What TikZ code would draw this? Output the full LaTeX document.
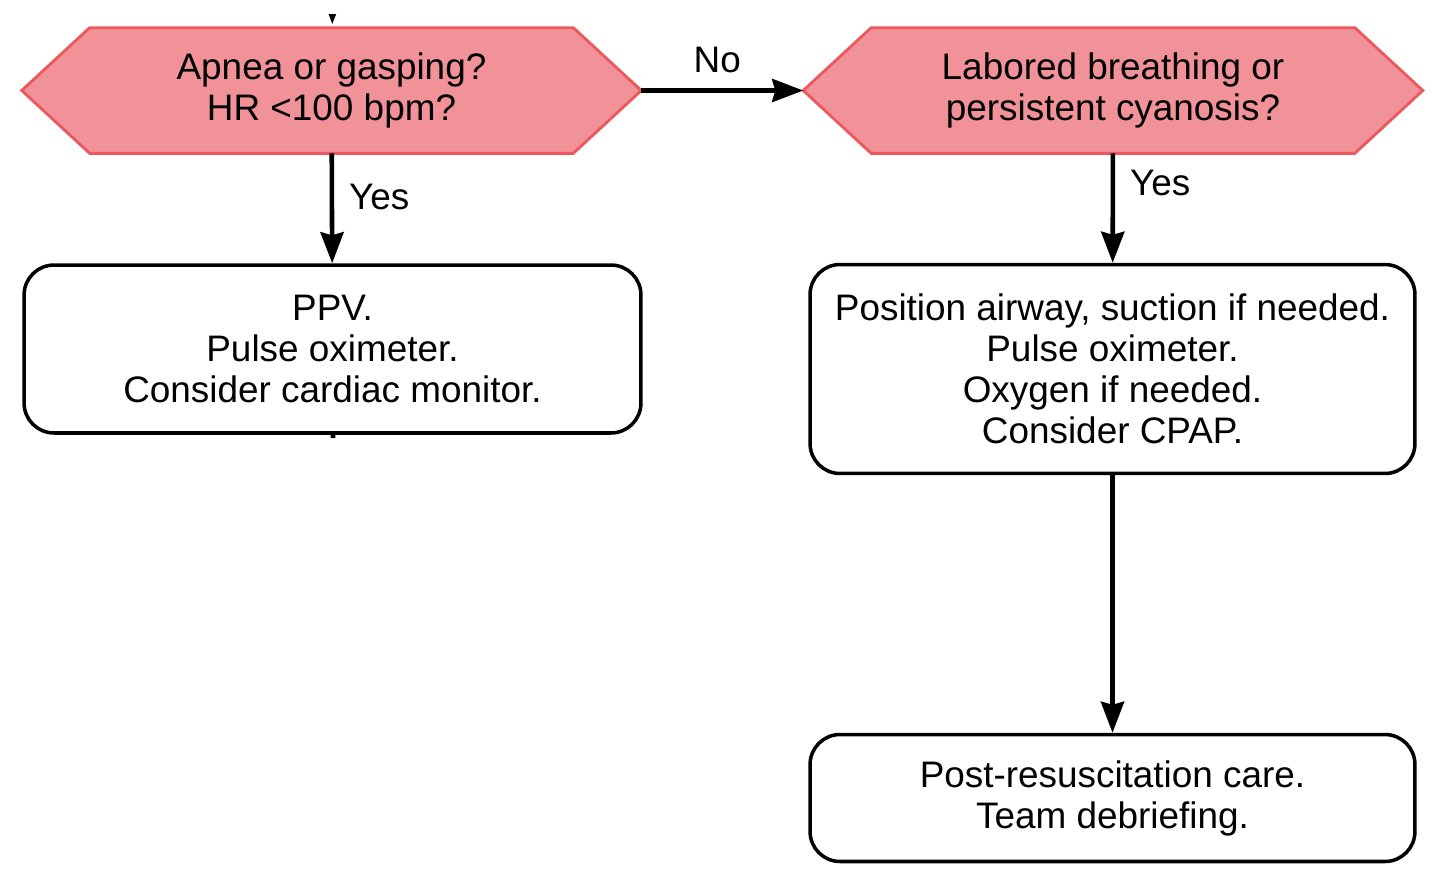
\documentclass[tikz,border=0pt]{standalone}
\usepackage{fontspec}
\setmainfont{Liberation Sans}
\usetikzlibrary{arrows.meta}
\definecolor{hexfill}{RGB}{241,145,152}
\definecolor{hexedge}{RGB}{236,88,94}

\begin{document}
\begin{tikzpicture}[x=0.02cm,y=-0.02cm]
        \useasboundingbox (0,0) rectangle (1437,873);

        \begin{scope}[every node/.style={align=center, inner sep=0pt, font=\fontsize{21}{23.3}\selectfont}]

          \begin{scope}[every node/.append style={minimum width=12.38cm, minimum height=2.5cm}]
            \node (apnea)   at (331.5,90.5) {};
            \node (labored) at (1113,90.5)  {};
          \end{scope}

          % hexagons round the question nodes
          \foreach \q in {apnea,labored} {
            \draw[draw=hexedge, fill=hexfill, line width=1.6pt, line join=miter]
              (\q.west) -- ([xshift=1.36cm]\q.north west) -- ([xshift=-1.36cm]\q.north east)
              -- (\q.east) -- ([xshift=-1.36cm]\q.south east) -- ([xshift=1.36cm]\q.south west) -- cycle;
          }
          \node at (apnea)   {Apnea or gasping?\\HR <100 bpm?};
          \node at (labored) {Labored breathing or\\persistent cyanosis?};

          \begin{scope}[every node/.append style={draw, rounded corners=0.6cm, line width=2pt, minimum width=12.1cm}]
            \node[minimum width=12.34cm, minimum height=3.36cm] (ppv)  at (332.5,349) {PPV.\\Pulse oximeter.\\Consider cardiac monitor.};
            \node[minimum height=4.18cm] (airway) at (1112.5,369) {Position airway, suction if needed.\\Pulse oximeter.\\Oxygen if needed.\\Consider CPAP.};
            \node[minimum height=2.54cm] (post)   at (1112.5,798) {Post-resuscitation care.\\Team debriefing.};
          \end{scope}

        \end{scope}

        \coordinate (in)  at (333,-40);
        \coordinate (out) at (333,438);

        \begin{scope}[every edge/.style={draw, line width=2.6pt, -{Stealth[length=0.62cm,width=0.46cm,inset=0.06cm]}},
                      every node/.style={font=\fontsize{21}{23.3}\selectfont, inner sep=0pt}]
          \begin{scope}
            \clip (0,14) rectangle (1437,60);
            \path (in) edge[shorten >=2pt] (apnea);
          \end{scope}
          \path (apnea)   edge node[pos=0.4, anchor=west, xshift=0.3cm] {Yes} (ppv);
          \path (apnea)   edge node[above=0.3cm, xshift=-0.1cm] {No} (labored);
          \path (labored) edge node[pos=0.27, anchor=west, xshift=0.3cm] {Yes} (airway);
          \path (airway)  edge (post);
          \path (ppv)     edge[-] (out);
        \end{scope}

      \end{tikzpicture}
\end{document}
